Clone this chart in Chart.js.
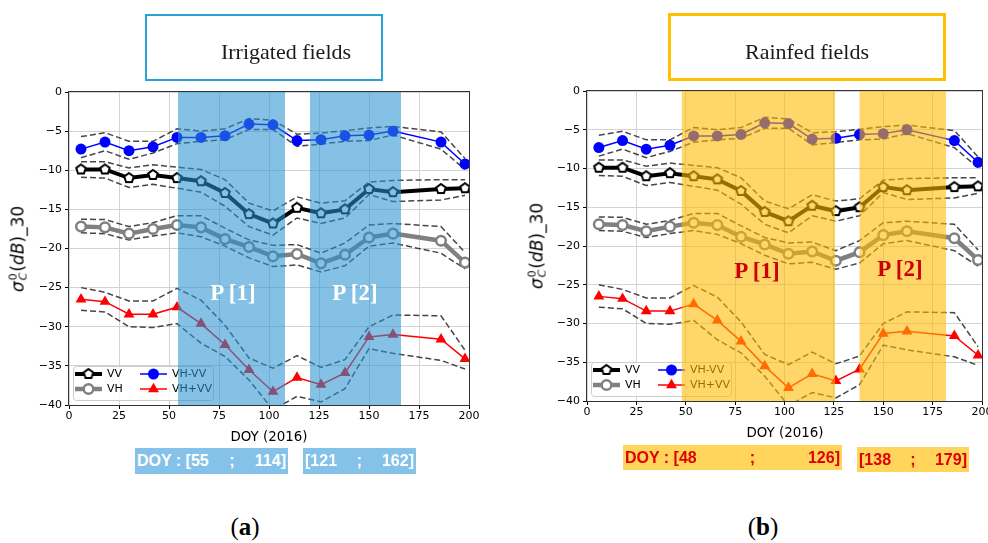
<!DOCTYPE html>
<html>
<head>
<meta charset="utf-8">
<script src="https://cdn.jsdelivr.net/npm/chart.js@4.4.1/dist/chart.umd.min.js"></script>
<style>
  body { margin: 0; width: 988px; height: 543px; overflow: hidden; background: #fff; position: relative; }
  canvas { position: absolute; top: 0; }
  .abs { position: absolute; white-space: nowrap; }
  .box { position: absolute; box-sizing: border-box; }
  .title { font-family: "Liberation Serif", serif; font-size: 22px; color: #1a1a1a; transform: translate(-50%, -50%); }
  .xlab { font-family: "DejaVu Sans", sans-serif; font-size: 13.4px; color: #000; transform: translate(-50%, -50%); }
  .ylab { font-family: "DejaVu Sans", sans-serif; font-size: 17px; color: #000; transform: translate(-50%, -50%) rotate(-90deg); }
  .ylab .ss { display: inline-block; vertical-align: middle; line-height: 0.9; font-size: 11px; margin: 0 1px; }
  .ylab .ss span { display: block; }
  .plab { font-family: "Liberation Serif", serif; font-weight: bold; font-size: 23px; transform: translate(-50%, -50%); }
  .doy { position: absolute; box-sizing: border-box; display: flex; justify-content: space-between; align-items: center;
         font-family: "Liberation Sans", sans-serif; font-weight: bold; font-size: 16px; padding: 0 2px; }
  .cap { font-family: "Liberation Serif", serif; font-size: 25px; color: #000; transform: translate(-50%, -50%); }
</style>
</head>
<body>
<canvas id="chartA" width="494" height="450" style="left:0"></canvas>
<canvas id="chartB" width="510" height="450" style="left:494px"></canvas>

<div class="box" style="left:145px;top:14px;width:238px;height:67px;border:2px solid #2aa2d9"></div>
<div class="abs title" style="left:286px;top:52px">Irrigated fields</div>
<div class="box" style="left:668px;top:13px;width:278px;height:68px;border:3px solid #ffc000"></div>
<div class="abs title" style="left:807px;top:52px">Rainfed fields</div>

<div class="abs ylab" style="left:18px;top:249px"><i>σ</i><span class="ss"><span>0</span><span><i>C</i></span></span>(<i>dB</i>)_30</div>
<div class="abs ylab" style="left:537px;top:246px"><i>σ</i><span class="ss"><span>0</span><span><i>C</i></span></span>(<i>dB</i>)_30</div>

<div class="abs xlab" style="left:269px;top:436px">DOY (2016)</div>
<div class="abs xlab" style="left:785px;top:432px">DOY (2016)</div>

<div class="abs plab" style="left:233px;top:293px;color:#fff">P [1]</div>
<div class="abs plab" style="left:355px;top:293px;color:#fff">P [2]</div>
<div class="abs plab" style="left:757px;top:271px;color:#cc0000">P [1]</div>
<div class="abs plab" style="left:900px;top:269px;color:#cc0000">P [2]</div>

<div class="doy" style="left:135px;top:448px;width:153px;height:26px;background:#85c2e9;color:#fff"><span>DOY : [55</span><span>;</span><span>114]</span></div>
<div class="doy" style="left:303px;top:448px;width:113px;height:26px;background:#85c2e9;color:#fff"><span>[121</span><span>;</span><span>162]</span></div>
<div class="doy" style="left:623px;top:445px;width:219px;height:25px;background:#ffd55c;color:#e00000"><span>DOY : [48</span><span>;</span><span>126]</span></div>
<div class="doy" style="left:857px;top:447px;width:112px;height:25px;background:#ffd55c;color:#e00000"><span>[138</span><span>;</span><span>179]</span></div>

<div class="abs cap" style="left:245px;top:527px">(<b>a</b>)</div>
<div class="abs cap" style="left:763px;top:527px">(<b>b</b>)</div>

<script>
// DOY of the acquisitions
const doy = [6, 18, 30, 42, 54, 66, 78, 90, 102, 114, 126, 138, 150, 162, 186, 198];

// mean backscatter (dB)
const vv    = [-9.9, -9.9, -11.0, -10.6, -11.0, -11.4, -12.9, -15.6, -16.8, -14.8, -15.5, -15.0, -12.4, -12.8, -12.4, -12.3];
const vh    = [-17.2, -17.3, -18.1, -17.5, -17.0, -17.3, -18.8, -19.8, -21.0, -20.7, -21.9, -20.8, -18.6, -18.1, -19.0, -21.8];
const vhvv  = [-7.3, -6.4, -7.5, -7.0, -5.8, -5.8, -5.6, -4.1, -4.2, -6.2, -6.1, -5.6, -5.5, -5.0, -6.4, -9.2];
const vhpvv = [-26.5, -26.8, -28.4, -28.4, -27.5, -29.6, -32.3, -35.5, -38.3, -36.5, -37.4, -35.9, -31.3, -31.0, -31.6, -34.1];

// +/- std envelopes (dashed)
const vvUp    = [-8.9, -8.9, -9.7, -9.3, -9.6, -9.9, -11.2, -14.2, -15.2, -13.4, -14.2, -13.9, -11.5, -11.3, -11.2, -11.2];
const vvLo    = [-10.9, -11.0, -12.2, -11.8, -12.3, -12.8, -14.6, -17.2, -18.3, -16.1, -16.8, -16.1, -13.1, -14.0, -13.8, -13.2];
const vhUp    = [-16.25, -16.3, -17.2, -16.7, -15.8, -15.8, -17.4, -18.9, -19.6, -19.5, -20.6, -19.3, -17.0, -16.8, -17.2, -20.5];
const vhLo    = [-18.0, -18.1, -18.9, -18.4, -18.0, -18.5, -19.7, -21.2, -22.3, -22.1, -23.0, -22.2, -19.7, -19.3, -20.6, -22.6];
const vhvvUp  = [-5.7, -5.2, -6.3, -6.3, -4.7, -5.0, -4.7, -3.4, -3.6, -5.4, -5.25, -4.95, -4.6, -4.4, -5.1, -8.5];
const vhvvLo  = [-8.4, -7.5, -8.6, -7.8, -6.6, -6.3, -6.1, -4.8, -4.8, -6.95, -6.65, -6.3, -6.2, -5.5, -7.3, -9.9];
const vhpvvUp = [-25.0, -25.6, -26.7, -26.7, -25.1, -26.6, -29.8, -34.0, -35.3, -33.7, -35.2, -34.2, -30.0, -28.5, -28.6, -33.0];
const vhpvvLo = [-27.9, -28.1, -30.0, -30.1, -29.6, -32.1, -33.8, -36.8, -40.6, -38.9, -39.6, -37.9, -32.8, -33.4, -34.3, -35.4];

// highlighted periods (DOY)
const bandsIrrigated = [[54.5, 108], [120.5, 166]];
const bandsRainfed   = [[48, 125.6], [138, 181.8]];

Chart.defaults.font.family = "'DejaVu Sans', sans-serif";
Chart.defaults.font.size = 11;
Chart.defaults.color = '#000';

function pentagon(r, lw) {
    const s = Math.ceil(2 * r + lw + 2);
    const c = document.createElement('canvas');
    c.width = s; c.height = s;
    const g = c.getContext('2d');
    g.beginPath();
    for (let i = 0; i < 5; i++) {
        const a = -Math.PI / 2 + i * 2 * Math.PI / 5;
        g.lineTo(s / 2 + r * Math.cos(a), s / 2 + r * Math.sin(a));
    }
    g.closePath();
    g.fillStyle = '#fff';
    g.fill();
    g.lineWidth = lw;
    g.strokeStyle = '#000';
    g.stroke();
    return c;
}
const penta = pentagon(5, 2);

function pts(values) {
    return doy.map((d, i) => ({ x: d, y: values[i] }));
}

function dashed(values) {
    return {
        data: pts(values),
        borderColor: 'rgba(50,50,50,0.9)',
        borderWidth: 1.5,
        borderDash: [6, 3],
        pointRadius: 0,
        fill: false
    };
}

function drawLegend(ctx, ca) {
    const L = ca.left + 4, T = ca.bottom - 39;
    ctx.save();
    ctx.beginPath();
    ctx.roundRect(L + 0.5, T + 0.5, 140, 34, 3);
    ctx.fillStyle = 'rgba(255,255,255,0.8)';
    ctx.fill();
    ctx.strokeStyle = '#cccccc';
    ctx.lineWidth = 1;
    ctx.stroke();

    const items = [
        { label: 'VV', col: 0, row: 0, color: '#000', lw: 4, marker: 'penta' },
        { label: 'VH', col: 0, row: 1, color: '#808080', lw: 4.5, marker: 'ring' },
        { label: 'VH-VV', col: 1, row: 0, color: '#0000ff', lw: 1.5, marker: 'dot' },
        { label: 'VH+VV', col: 1, row: 1, color: '#ff0000', lw: 1.5, marker: 'tri' }
    ];
    ctx.font = "11px 'DejaVu Sans'";
    ctx.textBaseline = 'middle';
    items.forEach(it => {
        const x0 = L + (it.col ? 67 : 2);
        const y = ca.bottom - 31 + it.row * 15;
        ctx.beginPath();
        ctx.moveTo(x0, y);
        ctx.lineTo(x0 + 27, y);
        ctx.strokeStyle = it.color;
        ctx.lineWidth = it.lw;
        ctx.stroke();
        const mx = x0 + 13.5;
        if (it.marker === 'penta') {
            ctx.drawImage(penta, mx - penta.width / 2, y - penta.height / 2);
        } else if (it.marker === 'ring') {
            ctx.beginPath();
            ctx.arc(mx, y, 4.8, 0, 2 * Math.PI);
            ctx.fillStyle = '#fff';
            ctx.fill();
            ctx.lineWidth = 2.5;
            ctx.strokeStyle = it.color;
            ctx.stroke();
        } else if (it.marker === 'dot') {
            ctx.beginPath();
            ctx.arc(mx, y, 5.5, 0, 2 * Math.PI);
            ctx.fillStyle = it.color;
            ctx.fill();
        } else {
            const r = 6.3;
            ctx.beginPath();
            ctx.moveTo(mx, y - r);
            ctx.lineTo(mx + r * 0.866, y + r / 2);
            ctx.lineTo(mx - r * 0.866, y + r / 2);
            ctx.closePath();
            ctx.fillStyle = it.color;
            ctx.fill();
        }
        ctx.fillStyle = '#000';
        ctx.fillText(it.label, L + (it.col ? 99 : 34), y + 0.5);
    });
    ctx.restore();
}

function makeChart(id, bands, bandColor, yWidth, pad) {
    const deco = {
        id: 'deco',
        afterDatasetsDraw(chart) {
            const ctx = chart.ctx, ca = chart.chartArea, xs = chart.scales.x;
            drawLegend(ctx, ca);
            ctx.save();
            ctx.fillStyle = bandColor;
            bands.forEach(b => {
                const x1 = xs.getPixelForValue(b[0]);
                const x2 = xs.getPixelForValue(b[1]);
                ctx.fillRect(x1, ca.top, x2 - x1, ca.bottom - ca.top);
            });
            ctx.restore();
        },
        afterDraw(chart) {
            const ctx = chart.ctx, ca = chart.chartArea;
            ctx.save();
            ctx.strokeStyle = '#333';
            ctx.lineWidth = 1;
            ctx.strokeRect(Math.round(ca.left) - 0.5, Math.round(ca.top) - 0.5,
                Math.round(ca.right - ca.left) + 1, Math.round(ca.bottom - ca.top) + 1);
            ctx.restore();
        }
    };

    return new Chart(document.getElementById(id).getContext('2d'), {
        type: 'line',
        data: {
            datasets: [
                {
                    label: 'VH-VV', data: pts(vhvv), borderColor: '#0000ff', borderWidth: 1.5,
                    pointRadius: 5.5, pointBackgroundColor: '#0000ff', pointBorderWidth: 0
                },
                {
                    label: 'VV', data: pts(vv), borderColor: '#000', borderWidth: 4,
                    pointStyle: penta
                },
                {
                    label: 'VH', data: pts(vh), borderColor: '#808080', borderWidth: 4.5,
                    pointRadius: 4.8, pointBackgroundColor: '#fff', pointBorderColor: '#808080', pointBorderWidth: 2.5
                },
                {
                    label: 'VH+VV', data: pts(vhpvv), borderColor: '#ff0000', borderWidth: 1.5,
                    pointStyle: 'triangle', pointRadius: 6.3, pointBackgroundColor: '#ff0000', pointBorderWidth: 0
                },
                dashed(vhvvUp), dashed(vhvvLo),
                dashed(vvUp), dashed(vvLo),
                dashed(vhUp), dashed(vhLo),
                dashed(vhpvvUp), dashed(vhpvvLo)
            ]
        },
        options: {
            responsive: false,
            animation: false,
            layout: { padding: pad },
            elements: { line: { tension: 0 } },
            plugins: { legend: { display: false }, tooltip: { enabled: false } },
            scales: {
                x: {
                    type: 'linear', min: 0, max: 200,
                    ticks: { stepSize: 25, padding: 1 },
                    grid: { color: '#d3d3d3', tickColor: '#000', tickLength: 4 },
                    border: { display: false },
                    afterFit: s => { s.height = 25; }
                },
                y: {
                    min: -40, max: 0,
                    ticks: {
                        stepSize: 5, padding: 3,
                        callback: v => v < 0 ? '\u2212' + (-v) : String(v)
                    },
                    grid: { color: '#d3d3d3', tickColor: '#000', tickLength: 4 },
                    border: { display: false },
                    afterFit: s => { s.width = yWidth; }
                }
            }
        },
        plugins: [deco]
    });
}

makeChart('chartA', bandsIrrigated, 'rgba(40,145,210,0.57)', 69, { left: 0, top: 92, right: 25, bottom: 20 });
makeChart('chartB', bandsRainfed, 'rgba(255,185,0,0.59)', 93, { left: 0, top: 91, right: 22, bottom: 24 });
</script>
</body>
</html>
